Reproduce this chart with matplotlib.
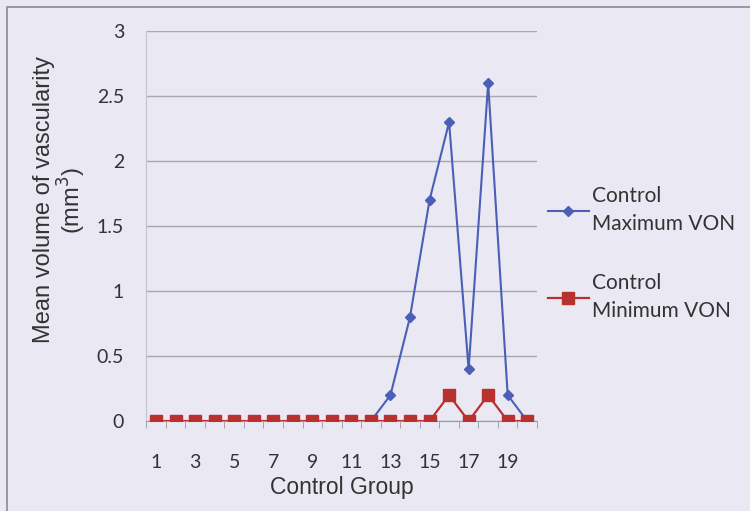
import matplotlib.pyplot as plt
import matplotlib.patches as patches
import numpy as np

# Control group values
groups = list(range(1, 21))
max_von = [0, 0, 0, 0, 0, 0, 0, 0, 0, 0, 0, 0, 0.2, 0.8, 1.7, 2.3, 0.4, 2.6, 0.2, 0]
min_von = [0, 0, 0, 0, 0, 0, 0, 0, 0, 0, 0, 0, 0, 0, 0, 0.2, 0, 0.2, 0, 0]
tick_labels = [1, 3, 5, 7, 9, 11, 13, 15, 17, 19]

bg = "#e9e8f3"
fig = plt.figure(figsize=(7.5, 5.11), dpi=100, facecolor=bg)
ax = fig.add_axes([0.195, 0.176, 0.521, 0.763])
ax.set_facecolor(bg)

# frame around the chart (scan border)
fig.patches.append(patches.Rectangle((0.009, -0.01), 1.2, 0.997, transform=fig.transFigure,
                                     fill=False, edgecolor="#8a8a95", linewidth=1.2))

ax.plot(groups, max_von, color="#4a5fb5", marker="D", markersize=5.5, linewidth=1.5,
        label="Control\nMaximum VON", zorder=3)
ax.plot(groups, min_von, color="#b8312f", marker="s", markersize=8, linewidth=1.6,
        label="Control\nMinimum VON", zorder=4)

ax.set_xlim(0.5, 20.5)
ax.set_ylim(0, 3)
ax.set_yticks(np.arange(0, 3.01, 0.5))
ax.set_yticklabels(["0", "0.5", "1", "1.5", "2", "2.5", "3"])
ax.set_xticks(tick_labels)
ax.set_xticks(np.arange(0.5, 21, 1), minor=True)
ax.tick_params(axis="x", which="major", length=0, pad=24)
ax.tick_params(axis="x", which="minor", length=5, color="#9a9aa5")
ax.tick_params(axis="y", length=0, pad=16)
for lab in ax.get_xticklabels() + ax.get_yticklabels():
    lab.set_fontfamily("Lato")
    lab.set_fontsize(14)
    lab.set_color("#333333")

ax.grid(axis="y", color="#a8a8b0", linewidth=1)
ax.set_axisbelow(True)
for s in ["top", "right"]:
    ax.spines[s].set_visible(False)
ax.spines["left"].set_color("#c4c4cc")
ax.spines["bottom"].set_color("#9a9aa5")

ax.set_xlabel("Control Group", fontfamily="Liberation Sans", fontsize=16.5, color="#333333", labelpad=3)
ax.set_ylabel("Mean volume of vascularity\n(mm$^3$)", fontfamily="Liberation Sans", fontsize=17,
              color="#333333", linespacing=1.0)
ax.yaxis.set_label_coords(-0.150, 0.567)

leg = fig.legend(loc="upper left", bbox_to_anchor=(0.705, 0.672), frameon=False,
                 prop={"family": "Lato", "size": 15}, handlelength=2.0,
                 handletextpad=0.15, labelspacing=1.85, labelcolor="#333333")
for t in leg.get_texts():
    t.set_linespacing(1.5)
for h in leg.legend_handles:
    h.set_markersize(5.5 if h.get_marker() == "D" else 8)

fig.savefig("out.png", dpi=100, facecolor=bg)
